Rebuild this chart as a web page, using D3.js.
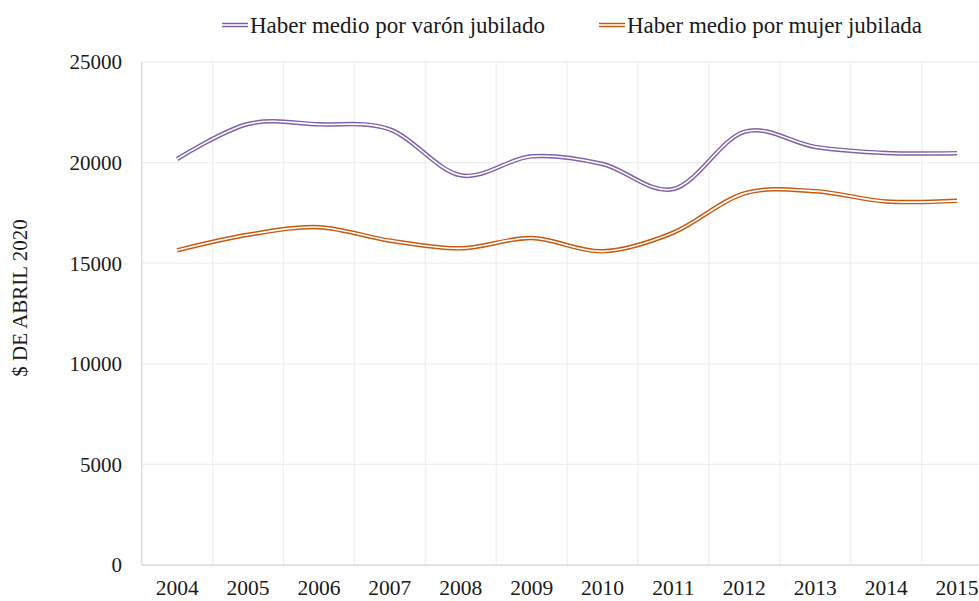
<!DOCTYPE html>
<html>
<head>
<meta charset="utf-8">
<script src="https://cdn.jsdelivr.net/npm/d3@7"></script>
<style>
  body { margin: 0; background: #fff; }
  text { font-family: "Liberation Serif", "DejaVu Serif", serif; fill: #1a1a1a; }
</style>
</head>
<body>
<svg id="chart" width="979" height="601"></svg>
<script>
// data
const years = ["2004","2005","2006","2007","2008","2009","2010","2011","2012","2013","2014","2015"];
const varon = [20180, 21920, 21900, 21650, 19370, 20310, 19930, 18690, 21530, 20780, 20480, 20470];
const mujer = [15640, 16410, 16790, 16120, 15740, 16250, 15590, 16520, 18470, 18580, 18070, 18100];
const seriesNames = ["Haber medio por varón jubilado", "Haber medio por mujer jubilada"];
const seriesColors = ["#7f62a8", "#c55a11"];
const yTicks = [0, 5000, 10000, 15000, 20000, 25000];

let svg = d3.select("#chart");

let x = d3.scaleBand().domain(years).range([141.7, 992.5]);
let y = d3.scaleLinear().domain([0, 25000]).range([565, 62]);

// gridlines
svg.append("g").selectAll("line").data(yTicks.slice(1))
  .join("line")
  .attr("x1", 142).attr("x2", 979)
  .attr("y1", d => y(d)).attr("y2", d => y(d))
  .attr("stroke", "#efefef").attr("stroke-width", 1.3);

svg.append("g").selectAll("line").data(years.slice(1))
  .join("line")
  .attr("x1", d => x(d)).attr("x2", d => x(d))
  .attr("y1", 62).attr("y2", 565)
  .attr("stroke", "#efefef").attr("stroke-width", 1.3);

// axis lines
svg.append("line").attr("x1", 141.7).attr("x2", 141.7).attr("y1", 62).attr("y2", 565)
  .attr("stroke", "#d9d9d9").attr("stroke-width", 1.3);
svg.append("line").attr("x1", 141.7).attr("x2", 979).attr("y1", 565).attr("y2", 565)
  .attr("stroke", "#d9d9d9").attr("stroke-width", 1.3);

// tick labels
svg.append("g").selectAll("text").data(yTicks)
  .join("text")
  .attr("x", 122).attr("y", d => y(d))
  .attr("dy", "0.35em")
  .attr("text-anchor", "end")
  .style("font-size", "21px")
  .text(d => d);

svg.append("g").selectAll("text").data(years)
  .join("text")
  .attr("x", d => x(d) + x.bandwidth() / 2).attr("y", 595)
  .attr("text-anchor", "middle")
  .style("font-size", "21.5px")
  .text(d => d);

// y title
svg.append("text")
  .attr("transform", "translate(27,298) rotate(-90)")
  .attr("text-anchor", "middle")
  .style("font-size", "21px")
  .text("$  DE ABRIL 2020");

// lines (double stroke like the original)
let line = d3.line()
  .x((d, i) => x(years[i]) + x.bandwidth() / 2)
  .y(d => y(d))
  .curve(d3.curveCatmullRom.alpha(0));

[varon, mujer].forEach((vals, k) => {
  svg.append("path").datum(vals)
    .attr("d", line).attr("fill", "none")
    .attr("stroke", seriesColors[k]).attr("stroke-width", 4.5);
  svg.append("path").datum(vals)
    .attr("d", line).attr("fill", "none")
    .attr("stroke", "#fff").attr("stroke-width", 1.6);
});

// legend
const legendX = [222, 599];
seriesNames.forEach((name, k) => {
  let g = svg.append("g").attr("transform", `translate(${legendX[k]},25)`);
  g.append("line").attr("x1", 0).attr("x2", 26).attr("y1", 0).attr("y2", 0)
    .attr("stroke", seriesColors[k]).attr("stroke-width", 4.5);
  g.append("line").attr("x1", 0).attr("x2", 26).attr("y1", 0).attr("y2", 0)
    .attr("stroke", "#fff").attr("stroke-width", 1.6);
  g.append("text").attr("x", 28).attr("y", 0).attr("dy", "0.35em")
    .style("font-family", "'Liberation Serif', serif")
    .style("font-size", "23px")
    .text(name);
});
</script>
</body>
</html>
